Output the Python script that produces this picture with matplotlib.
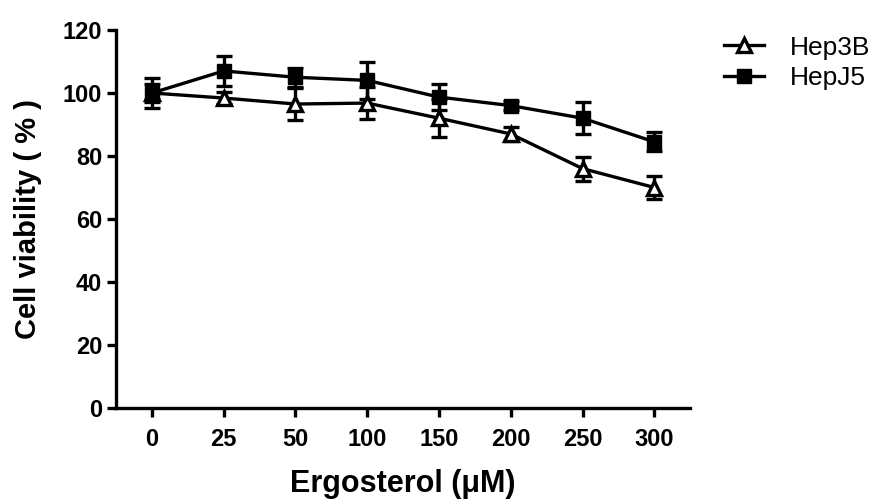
import numpy as np
import matplotlib.pyplot as plt

# ergosterol doses (uM) and cell viability (%)
doses = ['0', '25', '50', '100', '150', '200', '250', '300']
hep3b = [100, 98.4, 96.5, 96.8, 92, 87, 76, 70]
hep3b_err = [3, 2, 5, 5, 6, 2.3, 3.8, 3.7]
hepj5 = [100, 107, 105, 104, 98.7, 96, 92, 84.5]
hepj5_err = [4.9, 4.8, 3, 6, 4, 1.5, 5, 3]

plt.rcParams['font.family'] = ['Liberation Sans', 'DejaVu Sans']

fig = plt.figure(figsize=(8.86, 5), dpi=100)
ax = fig.add_axes([0.131, 0.184, 0.648, 0.756])

x = np.arange(len(doses))
ax.errorbar(x, hep3b, yerr=hep3b_err, color='black', lw=2.4, marker='^',
            ms=10, mfc='white', mec='black', mew=2.4, capsize=6, capthick=2.4,
            elinewidth=2.4, label='Hep3B', zorder=3)
ax.errorbar(x, hepj5, yerr=hepj5_err, color='black', lw=2.4, marker='s',
            ms=10, mfc='black', mec='black', capsize=6, capthick=2.4,
            elinewidth=2.4, label='HepJ5', zorder=4)

ax.set_xlim(-0.5, 7.5)
ax.set_ylim(0, 120)
ax.set_yticks(np.arange(0, 121, 20))
ax.set_xticks(x)
ax.set_xticklabels(doses)
for s in ['top', 'right']:
    ax.spines[s].set_visible(False)
for s in ['left', 'bottom']:
    ax.spines[s].set_linewidth(2.4)
ax.tick_params(width=2.4, length=6.5, labelsize=17, direction='out')
ax.tick_params(axis='x', pad=8)
for lbl in ax.get_xticklabels() + ax.get_yticklabels():
    lbl.set_fontweight('bold')

ax.set_xlabel('Ergosterol (\u03bcM)', fontsize=22, fontweight='bold')
ax.set_ylabel('Cell viability ( % )', fontsize=21, fontweight='bold')
ax.xaxis.set_label_coords(0.5, -0.162)
ax.yaxis.set_label_coords(-0.129, 0.5)

h, l = ax.get_legend_handles_labels()
h = [hh[0] for hh in h]
ax.legend(h, l, loc='upper left', bbox_to_anchor=(1.018, 1.048), frameon=False,
          handlelength=1.5, handletextpad=1.0, labelspacing=0.25,
          prop={'size': 19})

fig.savefig('out.png', dpi=100)
